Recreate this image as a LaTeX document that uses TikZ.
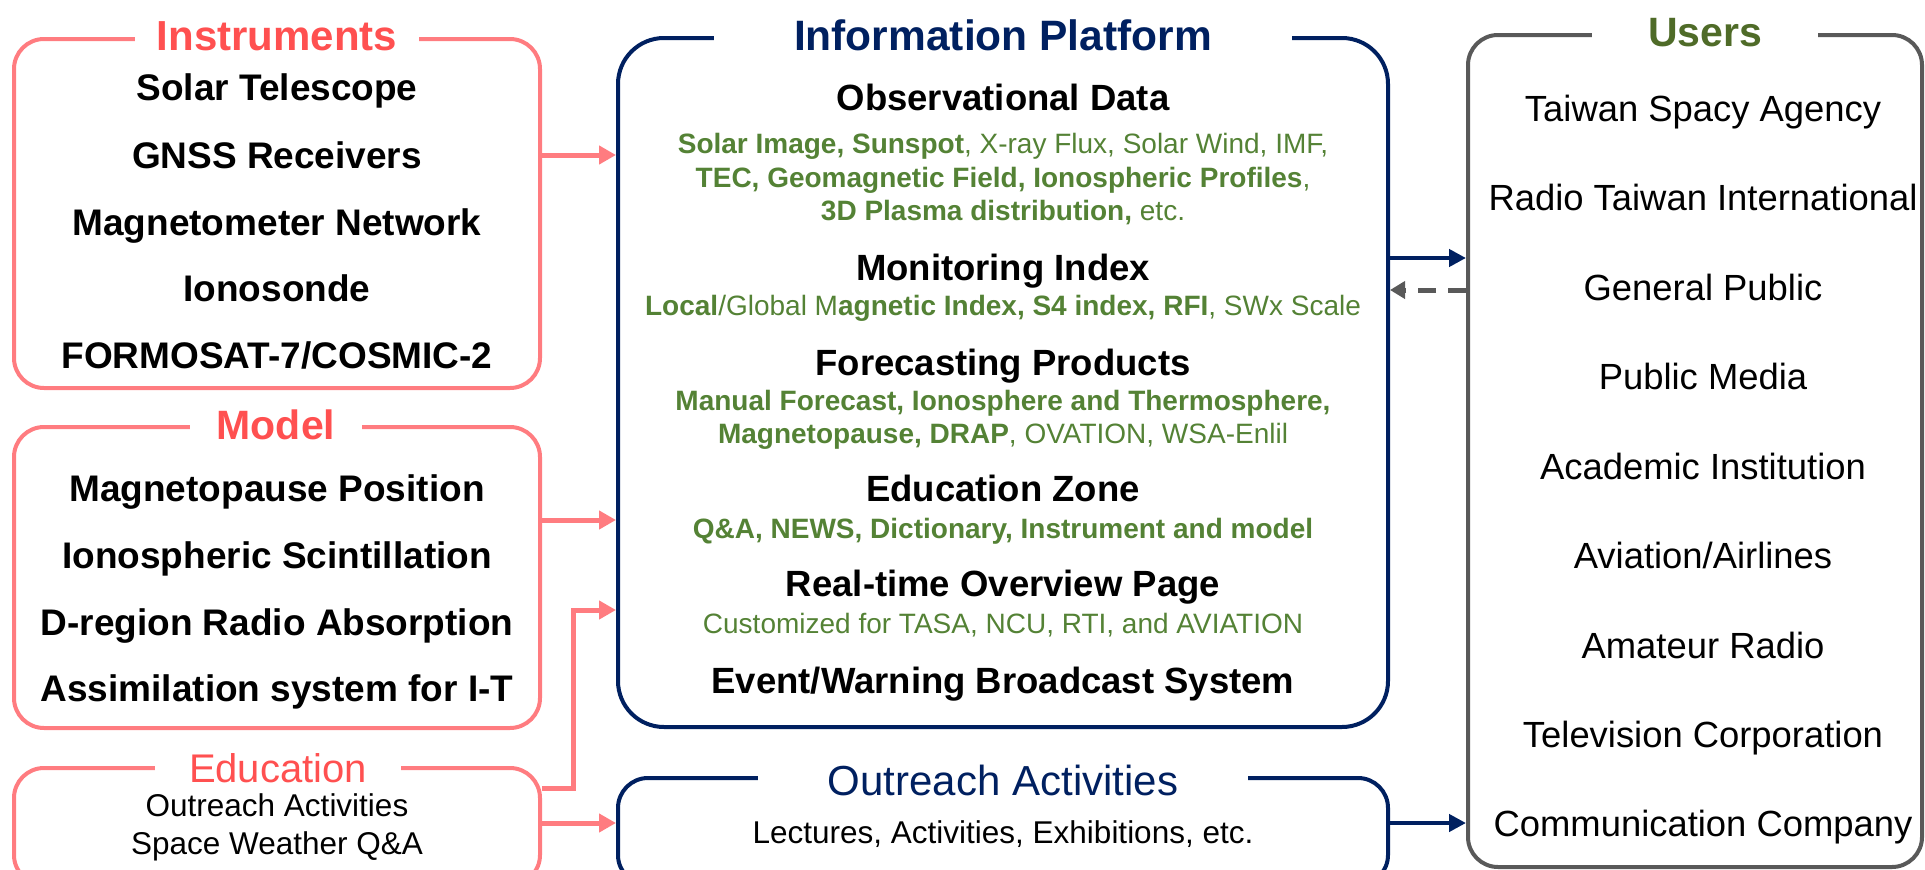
\documentclass[tikz,border=0pt]{standalone}
\usepackage{fontspec}
\setmainfont{Liberation Sans}
\usetikzlibrary{arrows.meta}
\definecolor{boxpink}{HTML}{FF7C80}
\definecolor{titlered}{HTML}{FF5050}
\definecolor{navy}{HTML}{002060}
\definecolor{leafgreen}{HTML}{548235}
\definecolor{usersgreen}{HTML}{4F6B28}
\definecolor{usergray}{HTML}{595959}
\newcommand{\setfs}[1]{\fontsize{#1}{#1}\selectfont}
\begin{document}
\begin{tikzpicture}[x=1pt,y=-1pt,
	pinkbox/.style={draw=boxpink,line width=4pt,rounded corners=30pt,inner sep=0pt},
	navybox/.style={draw=navy,line width=4pt,inner sep=0pt},
	graybox/.style={draw=usergray,line width=4pt,rounded corners=30pt,inner sep=0pt},
	txt/.style={inner sep=0pt,text depth=0pt},
	ttl/.style={txt,fill=white,inner ysep=8pt},
	item/.style={txt,text height=26.6pt,font=\setfs{37}\bfseries},
	head/.style={txt,text height=26.3pt,font=\setfs{36.5}\bfseries},
	glist/.style={txt,text height=20.2pt,text=leafgreen,font=\setfs{28}},
	small/.style={txt,text height=22.7pt,font=\setfs{31.5}},
	user/.style={txt,text height=26.2pt,font=\setfs{36.4}},
	pinkarrow/.style={draw=boxpink,line width=5pt,-{Triangle[length=17pt,width=18pt]}},
	navyarrow/.style={draw=navy,line width=4.5pt,-{Triangle[length=17pt,width=17pt]}},
	backarrow/.style={draw=usergray,line width=5pt,dash pattern=on 18pt off 12pt,-{Triangle[length=15pt,width=17pt]}}]
	\clip (0,0) rectangle (1925,870);
	% boxes
	\node[pinkbox,minimum width=526pt,minimum height=349pt] (instr) at (277,213.5) {};
	\node[pinkbox,minimum width=526pt,minimum height=301pt] (model) at (277,577.5) {};
	\node[pinkbox,minimum width=526pt,minimum height=117pt] (edu) at (277,826.5) {};
	\node[navybox,rounded corners=46pt,minimum width=770pt,minimum height=689pt] (info) at (1003,382.5) {};
	\node[navybox,rounded corners=30pt,minimum width=770pt,minimum height=107pt] (outr) at (1003,831.5) {};
	\node[graybox,minimum width=454pt,minimum height=832pt] (users) at (1695,451) {};
	% titles on the frames
	\node[ttl,inner xsep=22pt,text height=30.2pt,text=titlered,font=\setfs{42}\bfseries] (instrttl) at (277,35) {Instruments};
	\node[ttl,inner xsep=27pt,text height=29.5pt,text=titlered,font=\setfs{41}\bfseries] (modelttl) at (276,425) {Model};
	\node[ttl,inner xsep=34pt,text height=28.8pt,text=titlered,font=\setfs{40}] (eduttl) at (278,768) {Education};
	\node[ttl,inner xsep=80pt,text height=30.6pt,text=navy,font=\setfs{42.5}\bfseries] (infottl) at (1003,35) {Information Platform};
	\node[ttl,inner xsep=70pt,text height=30.2pt,text=navy,font=\setfs{42}] (outrttl) at (1003,780) {Outreach Activities};
	\node[ttl,inner xsep=56pt,text height=29.5pt,text=usersgreen,font=\setfs{41}\bfseries] (usersttl) at (1705,32) {Users};
	% instruments
	\node[item] (solar) at (277,87) {Solar Telescope};
	\node[item] (gnss) at (277,155) {GNSS Receivers};
	\node[item] (magnet) at (277,222) {Magnetometer Network};
	\node[item] (iono) at (277,288) {Ionosonde};
	\node[item] (formosat) at (277,355) {FORMOSAT-7/COSMIC-2};
	% models
	\node[item] (mpause) at (277,488) {Magnetopause Position};
	\node[item] (scint) at (277,555) {Ionospheric Scintillation};
	\node[item] (dregion) at (277,622) {D-region Radio Absorption};
	\node[item] (assim) at (277,688) {Assimilation system for I-T};
	% education
	\node[small] (eduout) at (277,805) {Outreach Activities};
	\node[small] (eduqa) at (277,843) {Space Weather Q\&A};
	% information platform
	\node[head] (obs) at (1003,97) {Observational Data};
	\node[glist] (obs1) at (1003,143) {\textbf{Solar Image, Sunspot}, X-ray Flux, Solar Wind, IMF,};
	\node[glist] (obs2) at (1003,177) {\textbf{TEC, Geomagnetic Field, Ionospheric Profiles},};
	\node[glist] (obs3) at (1003,210) {\textbf{3D Plasma distribution,} etc.};
	\node[head] (mon) at (1003,267) {Monitoring Index};
	\node[glist] (mon1) at (1003,305) {\textbf{Local}/Global M\textbf{agnetic Index, S4 index, RFI}, SWx Scale};
	\node[head] (fcst) at (1003,362) {Forecasting Products};
	\node[glist] (fcst1) at (1003,400) {\textbf{Manual Forecast, Ionosphere and Thermosphere,}};
	\node[glist] (fcst2) at (1003,433) {\textbf{Magnetopause, DRAP}, OVATION, WSA-Enlil};
	\node[head] (edzone) at (1003,488) {Education Zone};
	\node[glist] (edzone1) at (1003,528) {\textbf{Q\&A, NEWS, Dictionary, Instrument and model}};
	\node[head] (rtime) at (1003,583) {Real-time Overview Page};
	\node[glist] (rtime1) at (1003,623) {Customized for TASA, NCU, RTI, and AVIATION};
	\node[head] (event) at (1003,680) {Event/Warning Broadcast System};
	% outreach
	\node[small] (lect) at (1003,832) {Lectures, Activities, Exhibitions, etc.};
	% users
	\node[user] (tasa) at (1703,108) {Taiwan Spacy Agency};
	\node[user] (rti) at (1703,197) {Radio Taiwan International};
	\node[user] (public) at (1703,287) {General Public};
	\node[user] (media) at (1703,376) {Public Media};
	\node[user] (acad) at (1703,466) {Academic Institution};
	\node[user] (avia) at (1703,555) {Aviation/Airlines};
	\node[user] (ham) at (1703,645) {Amateur Radio};
	\node[user] (tv) at (1703,734) {Television Corporation};
	\node[user] (comm) at (1703,823) {Communication Company};
	% connectors
	\coordinate (lvlmodel) at (0,520);
	\coordinate (lvledu) at (0,788);
	\coordinate (bend) at (573,610);
	\coordinate (lvlto) at (0,258);
	\coordinate (lvlback) at (0,290);
	\draw[pinkarrow] (gnss -| instr.east) -- (gnss -| info.west);
	\draw[pinkarrow] (lvlmodel -| model.east) -- (lvlmodel -| info.west);
	\draw[pinkarrow] (lvledu -| edu.east) -| (bend) -- (bend -| info.west);
	\draw[pinkarrow] (comm -| edu.east) -- (comm -| outr.west);
	\draw[navyarrow] (lvlto -| info.east) -- (lvlto -| users.west);
	\draw[backarrow] (lvlback -| users.west) -- (lvlback -| info.east);
	\draw[navyarrow] (comm -| outr.east) -- (comm -| users.west);
\end{tikzpicture}
\end{document}
